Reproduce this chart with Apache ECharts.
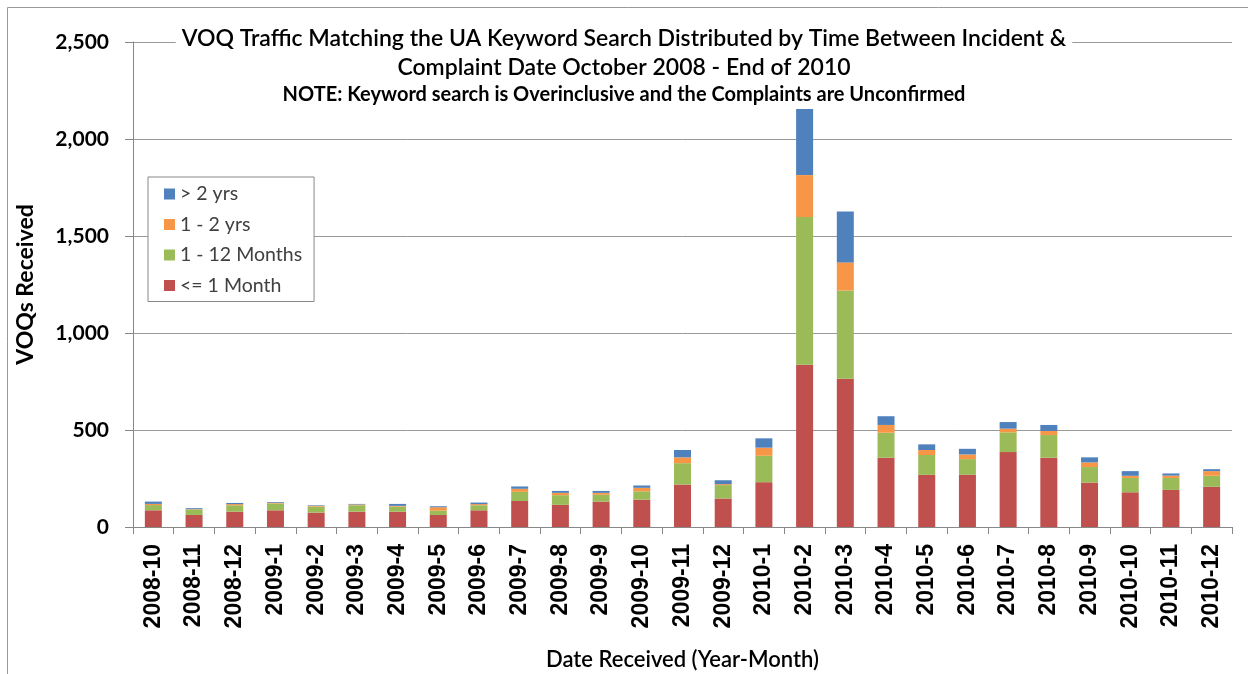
<!DOCTYPE html>
<html>
<head>
<meta charset="utf-8">
<script src="https://cdn.jsdelivr.net/npm/echarts@6/dist/echarts.min.js"></script>
<style>
html,body{margin:0;padding:0;background:#fff;}
#chart{width:1248px;height:674px;}
</style>
</head>
<body>
<div id="chart"></div>
<script>
const categories = ['2008-10','2008-11','2008-12','2009-1','2009-2','2009-3','2009-4','2009-5','2009-6','2009-7','2009-8','2009-9','2009-10','2009-11','2009-12','2010-1','2010-2','2010-3','2010-4','2010-5','2010-6','2010-7','2010-8','2010-9','2010-10','2010-11','2010-12'];
const upToOneMonth = [86,62,79,86,74,79,79,62,86,134,114,131,141,219,147,231,836,764,357,269,269,386,357,229,179,191,207];
const oneToTwelveMonths = [27,28,33,35,31,33,26,22,26,47,50,35,43,110,69,136,762,455,129,102,81,102,117,80,74,62,57];
const oneToTwoYears = [6,2,6,4,4,4,4,18,6,16,12,10,18,30,5,42,216,145,40,26,24,19,21,24,11,12,24];
const overTwoYears = [12,5,6,4,3,3,10,5,8,12,10,10,12,38,20,48,345,262,45,29,29,34,31,26,24,11,10];
const yTicks = [0,500,1000,1500,2000,2500];

const chart = echarts.init(document.getElementById('chart'), null, {renderer:'canvas'});
const calib = 'Lato, "Open Sans", sans-serif';
const mk = (name, data, color) => ({
  name, type:'bar', stack:'total', data, barWidth:17,
  itemStyle:{color}, emphasis:{disabled:true}
});
chart.setOption({
  animation:false,
  backgroundColor:'#fff',
  graphic:[{type:'rect', z:-10, silent:true, shape:{x:7.5,y:7.5,width:1400,height:800}, style:{fill:'none', stroke:'#999', lineWidth:1}}],
  title:{
    left:'center', top:20, padding:[4,6,4,6], backgroundColor:'#fff', z:10,
    text:'VOQ Traffic Matching the UA Keyword Search Distributed by Time Between Incident &\nComplaint Date October 2008 - End of 2010',
    textStyle:{fontFamily:calib, fontSize:23, fontWeight:600, color:'#000', lineHeight:29},
    subtext:'NOTE: Keyword search is Overinclusive and the Complaints are Unconfirmed',
    subtextStyle:{fontFamily:calib, fontSize:20, fontWeight:'bold', color:'#000'},
    itemGap:3
  },
  legend:{
    orient:'vertical', left:148, top:177, padding:[7,12,6,16],
    backgroundColor:'#fff', borderColor:'#888', borderWidth:1,
    itemWidth:11, itemHeight:11, itemGap:10.5, icon:'rect',
    textStyle:{fontFamily:calib, fontSize:19.5, color:'#404040'},
    data:['> 2 yrs','1 - 2 yrs','1 - 12 Months','<= 1 Month']
  },
  grid:{left:133, right:16, top:42, bottom:147, containLabel:false, outerBoundsMode:'none'},
  xAxis:{
    type:'category', data:categories,
    axisLine:{lineStyle:{color:'#888'}},
    axisTick:{show:true, length:7, lineStyle:{color:'#888'}},
    axisLabel:{rotate:90, margin:17, fontFamily:'"Liberation Sans", Arial, sans-serif', fontWeight:'bold', fontSize:23, color:'#000', interval:0},
    name:'Date Received (Year-Month)', nameLocation:'middle', nameGap:122,
    nameTextStyle:{fontFamily:calib, fontSize:22, fontWeight:600, color:'#000'}
  },
  yAxis:{
    type:'value', min:yTicks[0], max:yTicks[yTicks.length-1], interval:500,
    axisLine:{show:true, lineStyle:{color:'#888'}},
    axisTick:{show:true, length:8, lineStyle:{color:'#888'}},
    splitLine:{lineStyle:{color:'#999'}},
    axisLabel:{margin:24, fontFamily:calib, fontWeight:'bold', fontSize:21, color:'#000',
      formatter:v=>v.toLocaleString('en-US')},
    name:'VOQs Received', nameLocation:'middle', nameGap:96,
    nameTextStyle:{fontFamily:calib, fontSize:23, fontWeight:'bold', color:'#000'}
  },
  series:[
    mk('<= 1 Month', upToOneMonth, '#C0504D'),
    mk('1 - 12 Months', oneToTwelveMonths, '#9BBB59'),
    mk('1 - 2 yrs', oneToTwoYears, '#F79646'),
    mk('> 2 yrs', overTwoYears, '#4F81BD')
  ]
});
</script>
</body>
</html>
